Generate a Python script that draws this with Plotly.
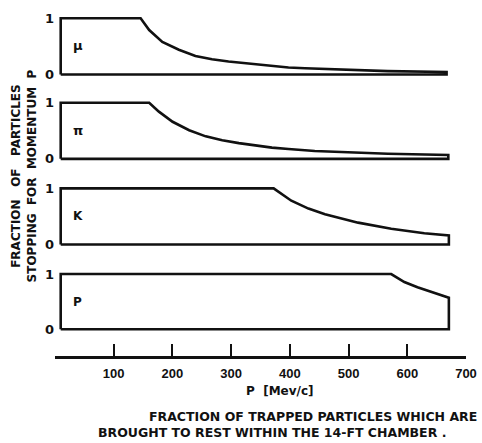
import plotly.graph_objects as go

# Momentum P (MeV/c) and fraction stopping
mu_p = [0, 140, 155, 178, 207, 236, 265, 294, 352, 399, 428, 500, 573, 676]
mu_f = [1, 1, 0.79, 0.58, 0.44, 0.33, 0.27, 0.23, 0.17, 0.125, 0.11, 0.08, 0.06, 0.045]

pi_p = [0, 155, 172, 196, 225, 254, 283, 312, 370, 399, 445, 573, 679]
pi_f = [1, 1, 0.84, 0.66, 0.51, 0.40, 0.33, 0.28, 0.20, 0.175, 0.14, 0.09, 0.07]

k_p = [0, 373, 404, 434, 463, 521, 579, 637, 680]
k_f = [1, 1, 0.78, 0.64, 0.54, 0.39, 0.28, 0.20, 0.16]

pr_p = [0, 579, 602, 625, 648, 680]
pr_f = [1, 1, 0.855, 0.76, 0.68, 0.57]

particles = ["μ", "π", "K", "P"]
x_ticks = [0, 100, 200, 300, 400, 500, 600, 700]
x_tick_labels = ["", "100", "200", "300", "400", "500", "600", "700"]

FONT = "DejaVu Sans"
TICKFONT = "Liberation Sans"
INK = "#111111"

series = [(mu_p, mu_f), (pi_p, pi_f), (k_p, k_f), (pr_p, pr_f)]
domains = [[0.806, 0.9845], [0.563, 0.741], [0.316, 0.494], [0.072, 0.247]]

fig = go.Figure()
for i, (p, f) in enumerate(series):
    yname = "y" if i == 0 else f"y{i+1}"
    xs = [0] + p + [p[-1], 0]
    ys = [0] + f + [0, 0]
    fig.add_trace(go.Scatter(x=xs, y=ys, mode="lines", xaxis="x", yaxis=yname,
                             line=dict(color=INK, width=2.6), showlegend=False,
                             hoverinfo="skip"))
    fig.add_annotation(x=30, y=0.52 if i == 0 else 0.5, xref="x", yref=yname,
                       text=f"<b>{particles[i]}</b>",
                       xanchor="center", yanchor="middle",
                       showarrow=False, font=dict(family=FONT, size=13 if i < 2 else 12, color=INK))
    key = "yaxis" if i == 0 else f"yaxis{i+1}"
    fig.layout[key] = dict(domain=domains[i], range=[-0.05, 1.05], anchor="x",
                           tickvals=[0, 1], ticktext=["<b>0</b>", "<b>1</b>"],
                           ticks="", showgrid=False, zeroline=False, showline=False,
                           tickfont=dict(family=FONT, size=13, color=INK))

# ruler axis
fig.add_trace(go.Scatter(x=[None], y=[None], xaxis="x2", yaxis="y", showlegend=False))

fig.update_layout(
    width=482, height=443,
    margin=dict(l=55.3, r=13.2, t=5, b=86),
    paper_bgcolor="white", plot_bgcolor="white",
    xaxis=dict(range=[-10, 710], visible=False, showgrid=False, zeroline=False),
    xaxis2=dict(domain=[0.0139, 0.986], range=[0, 700], anchor="free", position=0,
                overlaying="x", showline=True, linecolor=INK, linewidth=2.6,
                ticks="inside", ticklen=12, tickwidth=2, tickcolor=INK,
                ticklabelstandoff=4, ticklabeloverflow="allow",
                tickvals=x_ticks, ticktext=[f"<b>{t}</b>" if t else "" for t in x_tick_labels],
                tickfont=dict(family=TICKFONT, size=13, color=INK),
                showgrid=False, zeroline=False),
)

fig.add_annotation(x=-0.0757, y=0.523, xref="paper", yref="paper", textangle=-90,
                   xanchor="center", yanchor="middle",
                   text="<b>FRACTION   OF   PARTICLES</b><br><b>STOPPING  FOR  MOMENTUM  P</b>",
                   showarrow=False, font=dict(family=FONT, size=12, color=INK))
fig.add_annotation(x=0.548, y=-0.099, xref="paper", yref="paper",
                   xanchor="center", yanchor="middle",
                   text="<b>P  [Mev/c]</b>", showarrow=False,
                   font=dict(family=FONT, size=12, color=INK))
fig.add_annotation(x=0.6275, y=-0.1719, xref="paper", yref="paper",
                   xanchor="center", yanchor="middle",
                   text="<b>FRACTION OF TRAPPED PARTICLES WHICH ARE</b>", showarrow=False,
                   font=dict(family=FONT, size=12.5, color=INK))
fig.add_annotation(x=0.527, y=-0.2188, xref="paper", yref="paper",
                   xanchor="center", yanchor="middle",
                   text="<b>BROUGHT TO REST WITHIN THE 14-FT CHAMBER .</b>", showarrow=False,
                   font=dict(family=FONT, size=12.5, color=INK))

fig.write_html("out.html", config={"displayModeBar": False},
               post_script="document.body.style.margin='0';")
